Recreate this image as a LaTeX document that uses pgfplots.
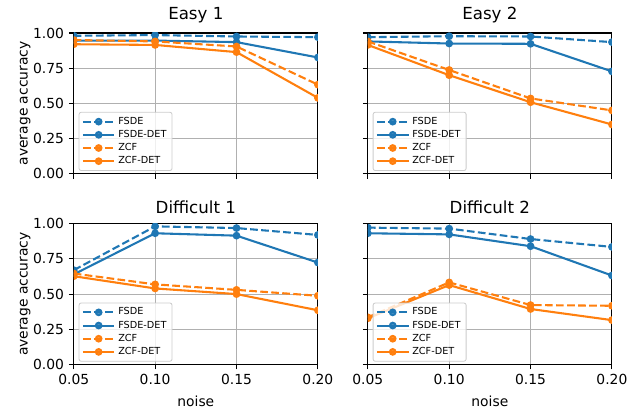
\documentclass[border=0pt]{standalone}
\usepackage{fontspec}
\setmainfont{DejaVu Sans}
\usepackage{pgfplots}
\pgfplotsset{compat=1.18}
\usepgfplotslibrary{groupplots}
\definecolor{tabblue}{HTML}{1F77B4}
\definecolor{taborange}{HTML}{FF7F0E}
\definecolor{gridgray}{HTML}{B0B0B0}
\definecolor{legedge}{HTML}{CCCCCC}
\pgfplotsset{
  myax/.style={
    scale only axis, width=176pt, height=101.5pt,
    xmin=0.05, xmax=0.20, ymin=0, ymax=1,
    xtick={0.05,0.10,0.15,0.20}, ytick={0,0.25,0.5,0.75,1},
    /pgf/number format/assume math mode=true,
    xticklabel style={/pgf/number format/.cd, fixed, fixed zerofill, precision=2},
    yticklabel style={/pgf/number format/.cd, fixed, fixed zerofill, precision=2},
    tick label style={font=\fontsize{10}{12}\selectfont},
    label style={font=\fontsize{10}{12}\selectfont},
    ylabel style={yshift=-5pt},
    xlabel style={yshift=-1pt},
    title style={font=\fontsize{12}{14}\selectfont, yshift=-2pt},
    grid=major, major grid style={gridgray, line width=0.8pt},
    axis line style={line width=0.8pt},
    tick style={black, line width=0.8pt},
    major tick length=3.5pt, tick align=outside,
    xtick pos=bottom, ytick pos=left,
    legend style={at={(0.02,0.02)}, anchor=south west, font=\fontsize{7}{7.6}\selectfont,
      fill=white, fill opacity=0.8, text opacity=1, draw=legedge, draw opacity=1,
      rounded corners=1.5pt, inner sep=2pt, row sep=0pt, line width=0.6pt,
      nodes={inner ysep=1.4pt, inner xsep=2pt}},
    legend cell align=left,
    legend image code/.code={\draw[mark repeat=2,mark phase=2] plot coordinates {(0cm,0cm) (0.4cm,0cm) (0.8cm,0cm)};},
    clip marker paths=true,
  },
  fsde/.style={tabblue, line width=1.5pt, dash pattern=on 5.55pt off 2.4pt, mark=*, mark size=2pt, mark options={solid}},
  fsdedet/.style={tabblue, line width=1.5pt, mark=*, mark size=2pt},
  zcf/.style={taborange, line width=1.5pt, dash pattern=on 5.55pt off 2.4pt, mark=*, mark size=2pt, mark options={solid}},
  zcfdet/.style={taborange, line width=1.5pt, mark=*, mark size=2pt},
}
\begin{document}
\begin{tikzpicture}
\begin{groupplot}[group style={group size=2 by 2, horizontal sep=36pt, vertical sep=36pt}, myax]
\nextgroupplot[title={Easy 1}, xticklabels={}, ylabel={average accuracy}]
\addplot[fsde] coordinates {(0.05,0.980) (0.10,0.985) (0.15,0.975) (0.20,0.970)};
\addplot[fsdedet] coordinates {(0.05,0.946) (0.10,0.946) (0.15,0.935) (0.20,0.826)};
\addplot[zcf] coordinates {(0.05,0.950) (0.10,0.940) (0.15,0.904) (0.20,0.633)};
\addplot[zcfdet] coordinates {(0.05,0.920) (0.10,0.915) (0.15,0.864) (0.20,0.539)};
\legend{FSDE,FSDE-DET,ZCF,ZCF-DET}
\nextgroupplot[title={Easy 2}, xticklabels={}, yticklabels={}]
\addplot[fsde] coordinates {(0.05,0.970) (0.10,0.977) (0.15,0.975) (0.20,0.935)};
\addplot[fsdedet] coordinates {(0.05,0.940) (0.10,0.925) (0.15,0.923) (0.20,0.727)};
\addplot[zcf] coordinates {(0.05,0.940) (0.10,0.737) (0.15,0.535) (0.20,0.450)};
\addplot[zcfdet] coordinates {(0.05,0.915) (0.10,0.700) (0.15,0.508) (0.20,0.350)};
\legend{FSDE,FSDE-DET,ZCF,ZCF-DET}
\nextgroupplot[title={Difficult 1}, ylabel={average accuracy}, xlabel={noise}]
\addplot[fsde] coordinates {(0.05,0.670) (0.10,0.981) (0.15,0.969) (0.20,0.920)};
\addplot[fsdedet] coordinates {(0.05,0.640) (0.10,0.932) (0.15,0.915) (0.20,0.724)};
\addplot[zcf] coordinates {(0.05,0.646) (0.10,0.569) (0.15,0.530) (0.20,0.488)};
\addplot[zcfdet] coordinates {(0.05,0.627) (0.10,0.540) (0.15,0.500) (0.20,0.385)};
\legend{FSDE,FSDE-DET,ZCF,ZCF-DET}
\nextgroupplot[title={Difficult 2}, yticklabels={}, xlabel={noise}]
\addplot[fsde] coordinates {(0.05,0.972) (0.10,0.965) (0.15,0.891) (0.20,0.835)};
\addplot[fsdedet] coordinates {(0.05,0.932) (0.10,0.924) (0.15,0.840) (0.20,0.632)};
\addplot[zcf] coordinates {(0.05,0.335) (0.10,0.583) (0.15,0.422) (0.20,0.417)};
\addplot[zcfdet] coordinates {(0.05,0.328) (0.10,0.564) (0.15,0.394) (0.20,0.315)};
\legend{FSDE,FSDE-DET,ZCF,ZCF-DET}
\end{groupplot}
\path (current bounding box.south west) ++(-11pt,-2pt);
\path (current bounding box.north west) ++(0pt,1.5pt);
\end{tikzpicture}
\end{document}
